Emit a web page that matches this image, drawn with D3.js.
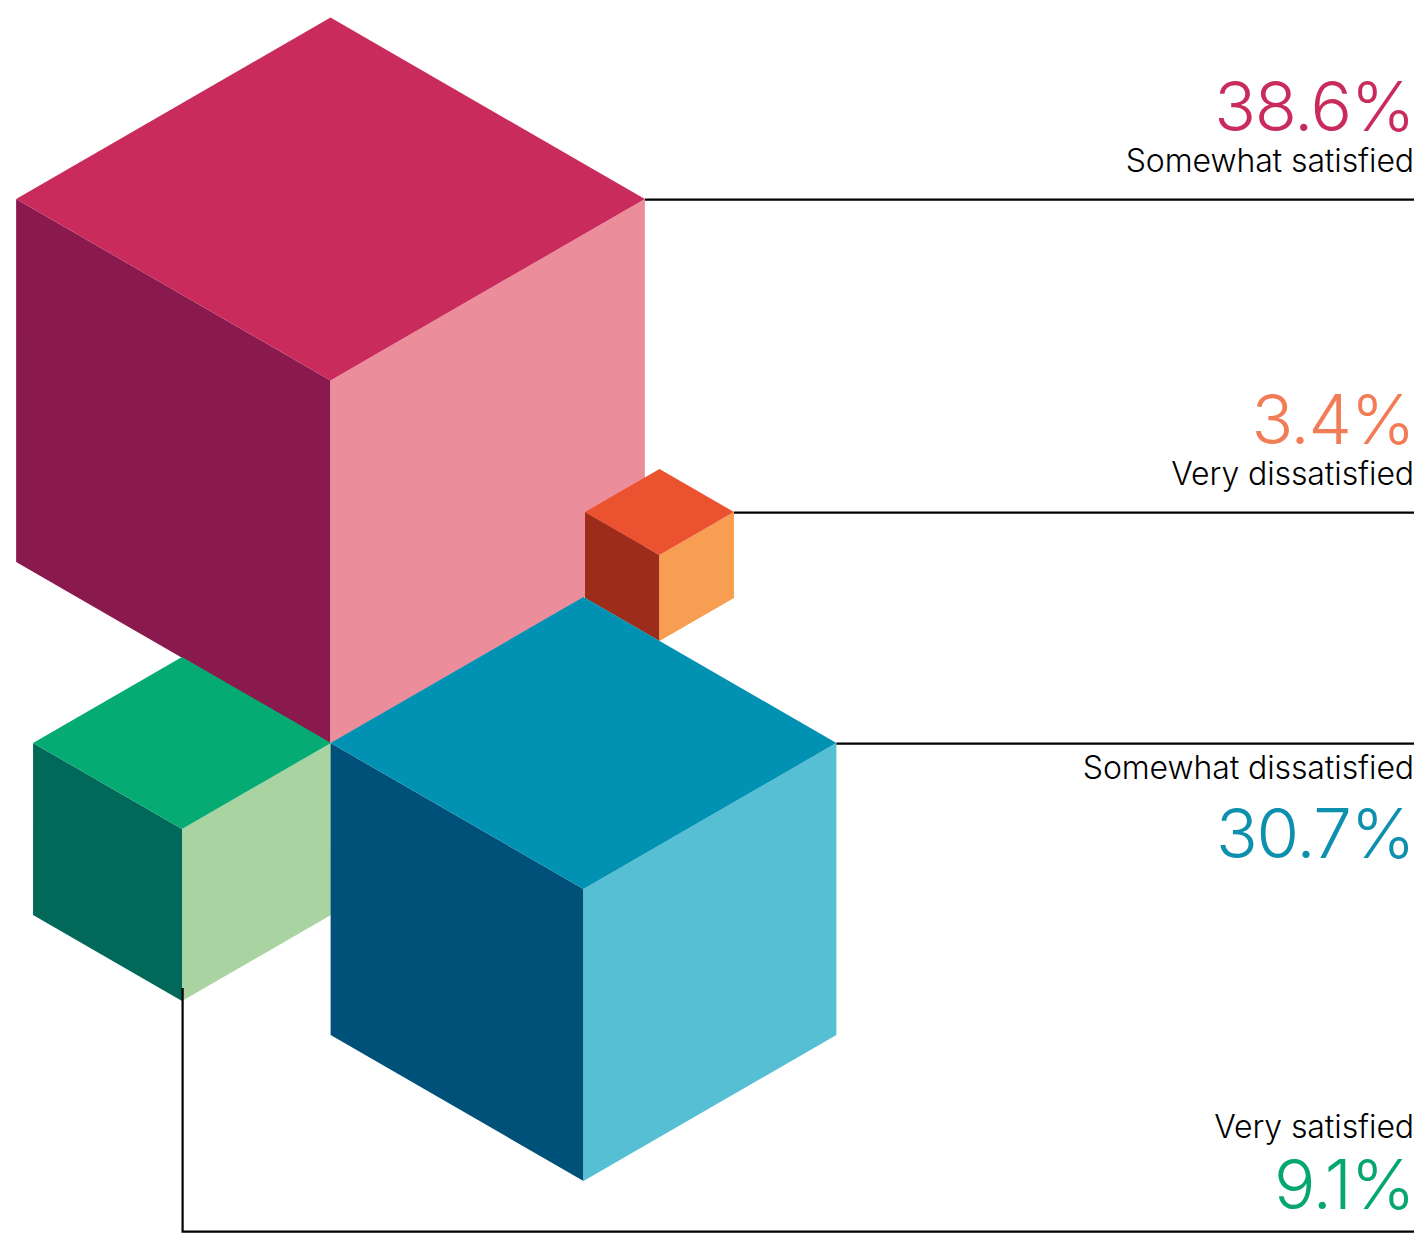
<!DOCTYPE html>
<html>
<head>
<meta charset="utf-8">
<script src="https://cdn.jsdelivr.net/npm/d3@7"></script>
<style>
  html, body { margin: 0; padding: 0; background: #fff; }
  svg { display: block; }
</style>
</head>
<body>
<div class="responsive-svg-container"></div>
<script>
const categories = ["Somewhat satisfied", "Very satisfied", "Very dissatisfied", "Somewhat dissatisfied"];
const shares = [38.6, 9.1, 3.4, 30.7];
const topColors = ["#c92c5c", "#05ab72", "#eb5230", "#0091b3"];
const leftColors = ["#8a1a4e", "#00695a", "#9e2c1a", "#00517a"];
const rightColors = ["#ec8d9c", "#a9d3a0", "#f79e52", "#56bfd3"];
const textColors = ["#c92c5c", "#05a672", "#f27c55", "#0d8fae"];

const width = 1427;
const height = 1253;
const rightEdge = 1414;

// cube edge, per share
const edgeScale = d3.scaleLinear().domain([3.4, 9.1, 30.7, 38.6]).range([86, 172, 292, 363]);

// where each cube's top-face centre sits, and where its text goes
const placement = {
  "Somewhat satisfied": { cx: 330.5, cy: 199, value: 131, label: 172 },
  "Very satisfied": { cx: 182, cy: 743, value: 1209, label: 1138 },
  "Very dissatisfied": { cx: 659.5, cy: 512, value: 444, label: 485 },
  "Somewhat dissatisfied": { cx: 583.5, cy: 743, value: 858, label: 779 },
};

const data = categories.map((name, i) => ({
  name,
  share: shares[i],
  top: topColors[i],
  left: leftColors[i],
  right: rightColors[i],
  text: textColors[i],
  ...placement[name],
}));

const svg = d3
  .select(".responsive-svg-container")
  .append("svg")
  .attr("width", width)
  .attr("height", height)
  .attr("viewBox", `0 0 ${width} ${height}`);

function facePoints(d, face) {
  const edge = edgeScale(d.share);
  const hw = (edge * Math.sqrt(3)) / 2;
  const hh = edge / 2;
  const { cx, cy } = d;
  if (face === "top") {
    return [[cx, cy - hh], [cx + hw, cy], [cx, cy + hh], [cx - hw, cy]];
  }
  if (face === "left") {
    return [[cx - hw, cy], [cx, cy + hh], [cx, cy + hh + edge], [cx - hw, cy + edge]];
  }
  return [[cx + hw, cy], [cx, cy + hh], [cx, cy + hh + edge], [cx + hw, cy + edge]];
}

const cubes = svg
  .selectAll(".cube")
  .data(data)
  .join("g")
  .attr("class", "cube");

["left", "right", "top"].forEach((face) => {
  cubes
    .append("polygon")
    .attr("points", (d) => facePoints(d, face).join(" "))
    .attr("fill", (d) => d[face]);
});

// leader lines
const leader = d3.line();
data.forEach((d) => {
  const edge = edgeScale(d.share);
  const path =
    d.name === "Very satisfied"
      ? [[d.cx + 0.6, 988], [d.cx + 0.6, 1231.6], [rightEdge, 1231.6]]
      : [[d.cx + (edge * Math.sqrt(3)) / 2, d.cy + 0.6], [rightEdge, d.cy + 0.6]];
  svg
    .append("path")
    .attr("d", leader(path))
    .attr("fill", "none")
    .attr("stroke", "#000")
    .attr("stroke-width", 2.2);
});

svg
  .selectAll(".value-label")
  .data(data)
  .join("text")
  .attr("class", "value-label")
  .attr("x", rightEdge)
  .attr("y", (d) => d.value)
  .attr("text-anchor", "end")
  .style("font-family", "Inter, sans-serif")
  .style("font-weight", "300")
  .style("font-size", "69px")
  .style("letter-spacing", "-1.3px")
  .style("fill", (d) => d.text)
  .text((d) => `${d.share.toFixed(1)}%`);

svg
  .selectAll(".name-label")
  .data(data)
  .join("text")
  .attr("class", "name-label")
  .attr("x", rightEdge)
  .attr("y", (d) => d.label)
  .attr("text-anchor", "end")
  .style("font-family", "Inter, sans-serif")
  .style("font-weight", "300")
  .style("font-size", "32px")
  .style("letter-spacing", "-0.1px")
  .style("fill", "#000")
  .text((d) => d.name);
</script>
</body>
</html>
